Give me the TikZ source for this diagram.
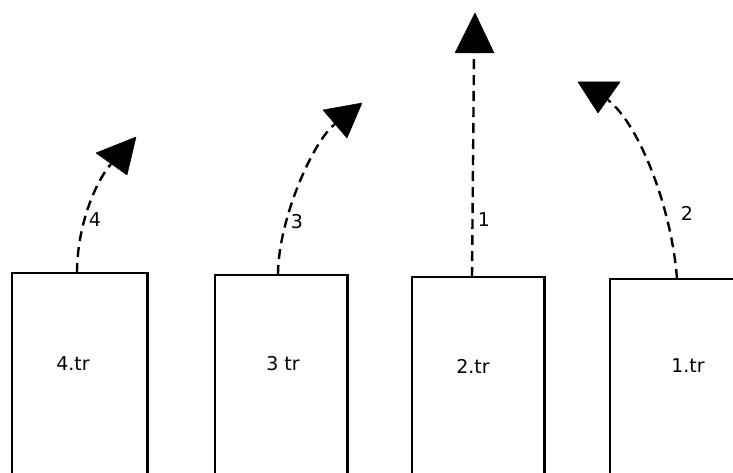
\documentclass[tikz,border=0pt]{standalone}
\usepackage{fontspec}
\setmainfont{DejaVu Sans}
\begin{document}
\begin{tikzpicture}[x=1pt,y=-1pt,
  wall/.style={line width=2.5pt,line cap=rect},
  flow/.style={line width=2.4pt,dash pattern=on 10pt off 6pt},
  head/.style={fill=black,draw=black,line width=0.5pt,line join=round},
  lbl/.style={font=\fontsize{19}{22}\selectfont,inner sep=0pt},
  slot/.style={draw=none,inner sep=0pt,anchor=north west}]
\useasboundingbox (0,0) rectangle (733,473);
% boxes (open at the bottom)
\node[slot,minimum width=135pt,minimum height=200pt] (b4) at (12,273) {};
\node[slot,minimum width=132pt,minimum height=198pt] (b3) at (215,275) {};
\node[slot,minimum width=132pt,minimum height=196pt] (b2) at (412,277) {};
\node[slot,minimum width=123pt,minimum height=194pt] (b1) at (610,279) {};
\draw[wall] (b4.south west) -- (b4.north west) -- (b4.north east) -- (b4.south east);
\draw[wall] (b3.south west) -- (b3.north west) -- (b3.north east) -- (b3.south east);
\draw[wall] (b2.south west) -- (b2.north west) -- (b2.north east) -- (b2.south east);
\draw[wall] (b1.south west) -- (b1.north west) -- (b1.north east);
% box labels
\node[lbl] (t4) at (73,364) {4.tr};
\node[lbl] (t3) at (283,364) {3 tr};
\node[lbl] (t2) at (473,366) {2.tr};
\node[lbl] (t1) at (688,366) {1.tr};
% arrow start points
\coordinate (s4) at (77,273);
\coordinate (s3) at (278,275);
\coordinate (s2) at (472,277);
\coordinate (s1) at (677,279);
% arrow ends (base of heads)
\coordinate (e4) at (111,164);
\coordinate (e3) at (335,124);
\coordinate (e2) at (474,53);
\coordinate (e1) at (608,100);
% arrowheads
\coordinate (h4a) at (96,153); \coordinate (h4t) at (136,137); \coordinate (h4b) at (127,175);
\coordinate (h3a) at (323,110); \coordinate (h3t) at (362,103); \coordinate (h3b) at (347,138);
\coordinate (h2a) at (455,53); \coordinate (h2t) at (475,13); \coordinate (h2b) at (494,53);
\coordinate (h1a) at (578,82); \coordinate (h1t) at (598,113); \coordinate (h1b) at (620,82);
% dashed paths
\draw[flow] (s4) .. controls (77,225) and (96,181) .. (e4);
\draw[flow] (s3) .. controls (278,220) and (313,141) .. (e3);
\draw[flow] (s2) -- (e2);
\draw[flow] (s1) .. controls (672,210) and (640,125) .. (e1);
\filldraw[head] (h4a) -- (h4t) -- (h4b) -- cycle;
\filldraw[head] (h3a) -- (h3t) -- (h3b) -- cycle;
\filldraw[head] (h2a) -- (h2t) -- (h2b) -- cycle;
\filldraw[head] (h1a) -- (h1t) -- (h1b) -- cycle;
% path labels
\node[lbl] (n4) at (95,220) {4};
\node[lbl] (n3) at (297,222) {3};
\node[lbl] (n1) at (484,220) {1};
\node[lbl] (n2) at (687,213) {2};
\end{tikzpicture}
\end{document}
